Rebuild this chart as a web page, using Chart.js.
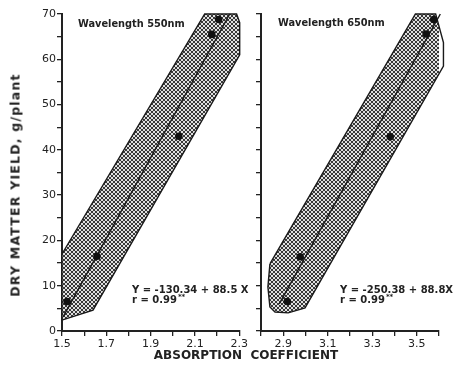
<!DOCTYPE html>
<html><head><meta charset="utf-8">
<script src="https://cdn.jsdelivr.net/npm/chart.js@4/dist/chart.umd.min.js"></script>
<style>
html,body{margin:0;padding:0;background:#fff;}
#wrap{position:relative;width:459px;height:368px;overflow:hidden;background:#fff;}
canvas{position:absolute;top:0;}
#c1{left:0;} #c2{left:250px;}
.t{position:absolute;font-family:"DejaVu Sans",sans-serif;font-weight:bold;color:#222;white-space:pre;}
#xt{left:246px;top:355px;transform:translate(-50%,-50%);font-size:12px;letter-spacing:0px;}
#yt{left:15px;top:185px;transform:translate(-50%,-50%) rotate(-90deg);font-size:12.5px;letter-spacing:1.2px;}
</style></head>
<body><div id="wrap">
<canvas id="c1" width="250" height="368"></canvas>
<canvas id="c2" width="209" height="368"></canvas>
<div class="t" id="xt">ABSORPTION  COEFFICIENT</div>
<div class="t" id="yt">DRY MATTER YIELD, g/plant</div>
</div>
<script>
// ---- data ----
const leftX = [1.523, 1.658, 2.027, 2.176, 2.207];
const leftY = [6.5, 16.5, 43.0, 65.5, 68.8];
const rightX = [2.918, 2.976, 3.381, 3.542, 3.576];
const rightY = [6.5, 16.4, 42.9, 65.6, 68.8];
const leftFitX = [1.505, 2.257];
const leftFitY = [3.1, 70];
const rightFitX = [2.882, 3.606];
const rightFitY = [6.0, 70];
const leftBandX = [1.5, 2.144, 2.288, 2.302, 2.302, 1.64, 1.5, 1.5];
const leftBandY = [17, 70, 70, 68.1, 61, 4.6, 2.4, 17];
const rightBandX = [2.84, 3.494, 3.585, 3.62, 3.62, 2.998, 2.922, 2.863, 2.84, 2.831, 2.84];
const rightBandY = [14.8, 70, 70, 63.7, 58.5, 5.1, 4.0, 4.2, 5.3, 9.7, 14.8];
const yTicks = [0, 10, 20, 30, 40, 50, 60, 70];
const leftXLabels = ['1.5', '1.7', '1.9', '2.1', '2.3'];
const rightXLabels = ['2.9', '3.1', '3.3', '3.5'];
const leftTitle = 'Wavelength 550nm';
const rightTitle = 'Wavelength 650nm';
const leftEq = 'Y = -130.34 + 88.5 X';
const rightEq = 'Y = -250.38 + 88.8X';
const rText = 'r = 0.99';

const zip = (xs, ys) => xs.map((x, i) => ({x, y: ys[i]}));
const INK = '#222';
Chart.defaults.font.family = '"DejaVu Sans", sans-serif';
Chart.defaults.color = INK;

function hatchPattern(ctx){
  const c = document.createElement('canvas'); c.width = 4; c.height = 4;
  const g = c.getContext('2d');
  g.fillStyle = '#e0e0e0'; g.fillRect(0,0,4,4);
  g.fillStyle = '#383838';
  for (let i = 0; i < 4; i++){ g.fillRect(i,i,1,1); g.fillRect(3-i,i,1,1); }
  return ctx.createPattern(c, 'repeat');
}

const textPlugin = {
  id: 'notes',
  afterDraw(chart, args, opts){
    const ctx = chart.ctx; ctx.save(); ctx.fillStyle = INK; ctx.textBaseline = 'middle'; ctx.textAlign = 'left';
    ctx.font = 'bold 9.8px "DejaVu Sans", sans-serif';
    ctx.fillText(opts.title, opts.tx, opts.ty);
    ctx.font = 'bold 10px "DejaVu Sans", sans-serif';
    ctx.fillText(opts.eq, opts.ex, opts.ey);
    ctx.fillText(rText, opts.ex, opts.ey + 10);
    const w = ctx.measureText(rText).width;
    ctx.font = 'bold 7px "DejaVu Sans", sans-serif';
    ctx.fillText('**', opts.ex + w + 1, opts.ey + 7);
    ctx.restore();
  }
};

function makeChart(id, cfg){
  const el = document.getElementById(id);
  const ctx = el.getContext('2d');
  const pat = hatchPattern(ctx);
  return new Chart(ctx, {
    type: 'scatter',
    data: { datasets: [
      { data: zip(cfg.px, cfg.py), pointRadius: 3.8, pointBackgroundColor: '#111', pointBorderColor: '#111', pointBorderWidth: 0, showLine: false, order: 0, clip: false },
      { data: zip(cfg.fx, cfg.fy), showLine: true, borderColor: '#1a1a1a', borderWidth: 1.4, pointRadius: 0, order: 1, clip: false },
      { data: zip(cfg.bx, cfg.by), showLine: true, borderColor: '#1a1a1a', borderWidth: 1.4, pointRadius: 0, fill: 'shape', backgroundColor: pat, tension: 0, order: 2, clip: false }
    ]},
    options: {
      responsive: false, animation: false, devicePixelRatio: 1,
      layout: { padding: cfg.pad },
      plugins: { legend: {display: false}, tooltip: {enabled: false}, notes: cfg.notes },
      scales: {
        x: {
          type: 'linear', min: cfg.xmin, max: cfg.xmax,
          afterBuildTicks: (s) => { const t = []; for (let k = Math.round(cfg.xmin*10); k <= Math.round(cfg.xmax*10); k++) t.push({value: k/10}); s.ticks = t; },
          afterFit: (s) => { s.height = 37; },
          ticks: { autoSkip: false, maxRotation: 0, padding: 2, font: {size: 11}, color: INK,
            callback: (v) => { const lbl = (Math.round(v*10)/10).toFixed(1); return cfg.xl.includes(lbl) ? lbl : ''; } },
          grid: { drawOnChartArea: false, drawTicks: true, tickLength: 5, color: INK, lineWidth: 1.3 },
          border: { display: true, color: INK, width: 2 }
        },
        y: {
          type: 'linear', min: 0, max: 70,
          afterBuildTicks: (s) => { const t = []; for (let v = 0; v <= 70; v += 5) t.push({value: v}); s.ticks = t; },
          afterFit: (s) => { s.width = cfg.yw; },
          ticks: { autoSkip: false, padding: 1, font: {size: 11}, color: INK,
            callback: (v) => (cfg.ylab && yTicks.includes(v)) ? String(v) : '' },
          grid: { drawOnChartArea: false, drawTicks: true, tickLength: 5, color: INK, lineWidth: 1.3 },
          border: { display: true, color: INK, width: 2 }
        }
      }
    },
    plugins: [textPlugin]
  });
}

makeChart('c1', {
  px: leftX, py: leftY, fx: leftFitX, fy: leftFitY, bx: leftBandX, by: leftBandY,
  xmin: 1.5, xmax: 2.3, xl: leftXLabels, ylab: true, yw: 45,
  pad: {left: 17, top: 14, right: 10, bottom: 0},
  notes: {title: leftTitle, tx: 78, ty: 24, eq: leftEq, ex: 132, ey: 290}
});
makeChart('c2', {
  px: rightX, py: rightY, fx: rightFitX, fy: rightFitY, bx: rightBandX, by: rightBandY,
  xmin: 2.8, xmax: 3.6, xl: rightXLabels, ylab: false, yw: 11,
  pad: {left: 0, top: 14, right: 20, bottom: 0},
  notes: {title: rightTitle, tx: 28, ty: 23, eq: rightEq, ex: 90, ey: 290}
});
</script>
</body></html>
